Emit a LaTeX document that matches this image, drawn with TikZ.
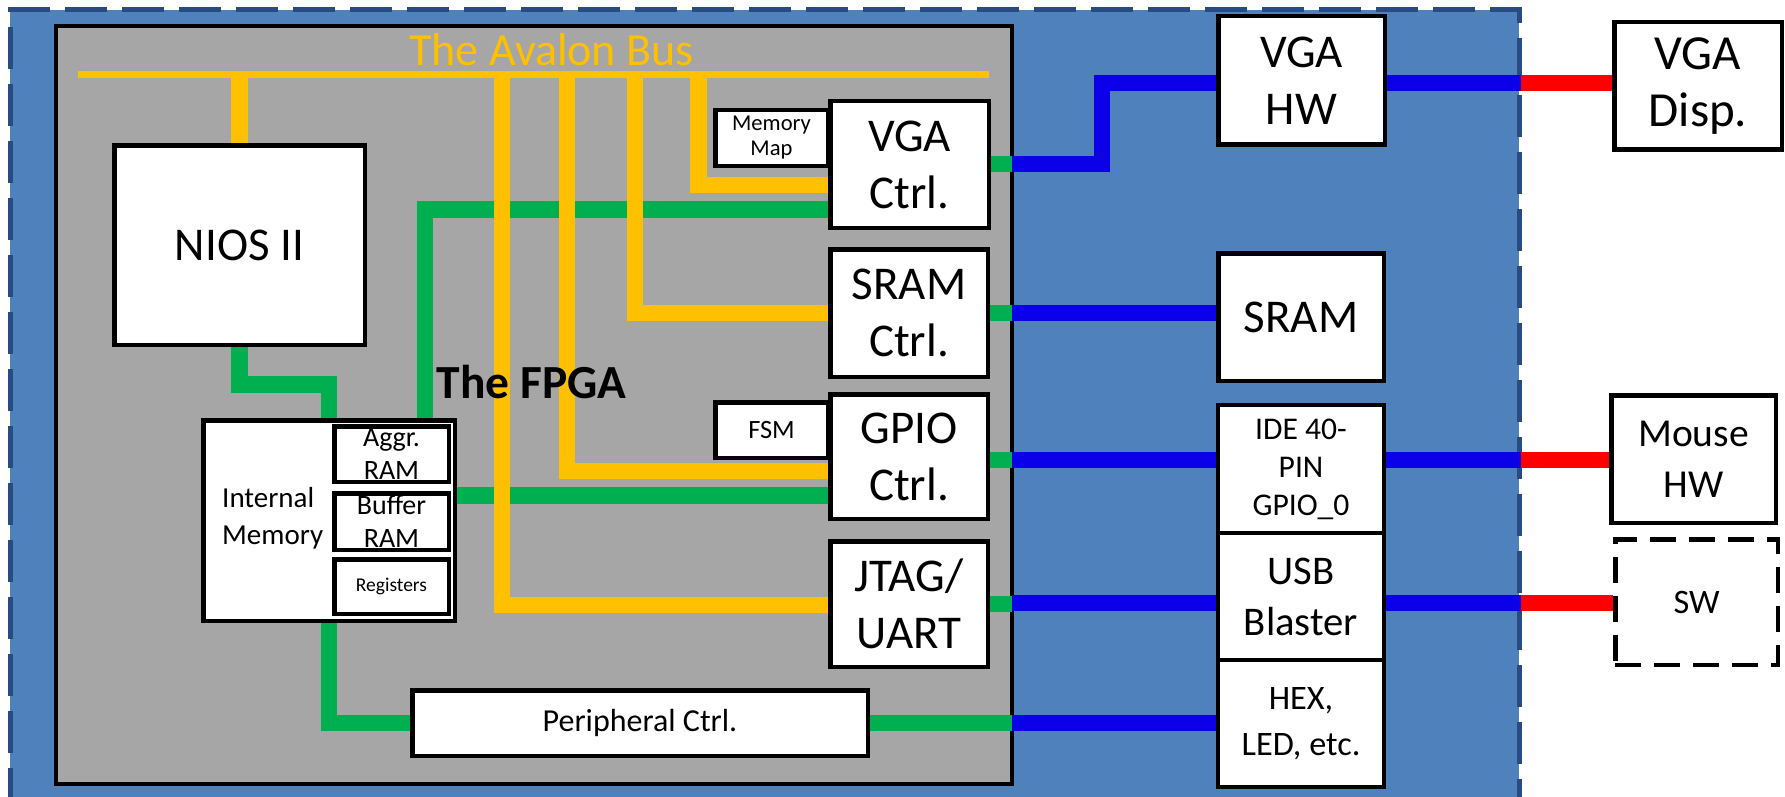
\documentclass[tikz,border=0pt]{standalone}
\usepackage{fontspec}
\setmainfont{Carlito}
\definecolor{bgblue}{RGB}{79,129,189}
\definecolor{edgeblue}{RGB}{40,75,130}
\definecolor{fpgagray}{RGB}{166,166,166}
\definecolor{busyellow}{RGB}{255,192,0}
\definecolor{wiregreen}{RGB}{0,176,80}
\definecolor{wireblue}{RGB}{12,0,232}
\definecolor{wirered}{RGB}{255,0,0}

\begin{document}
\begin{tikzpicture}[x=1pt, y=-1pt,
    box/.style={draw, line width=4.5pt, fill=white, align=center, inner sep=0pt,
        font=\fontsize{47}{57}\selectfont},
    smallbox/.style={box, minimum width=112.5pt, minimum height=55.5pt},
    buswire/.style={busyellow, line width=7.7pt},
    dropwire/.style={busyellow, line width=16.3pt},
    greenwire/.style={wiregreen, line width=16.5pt},
    bluewire/.style={wireblue, line width=16pt},
    redwire/.style={wirered, line width=16pt}]
    \useasboundingbox (0,0) rectangle (1785,797);

    % Board: dashed blue area
    \fill[bgblue] (10,10) rectangle (1519,810);
    \draw[edgeblue, line width=5pt, dash pattern=on 42pt off 15pt] (10,810) -- (10,10) -- (1519,10) -- (1519,810);
    \coordinate (boardedge) at (1521,0);

    % The FPGA
    \node[draw, line width=4.5pt, fill=fpgagray, minimum width=956pt, minimum height=758pt] (fpga) at (534,405) {};
    \coordinate (fpgaedge) at (1012,0);

    % Inside the FPGA
    \node[box, minimum width=250.5pt, minimum height=199.5pt] (nios) at (239.5,245) {NIOS II};
    \node[box, minimum width=251.5pt, minimum height=200.5pt] (intmem) at (329,520.5) {};
    \node[font=\fontsize{29}{36.7}\selectfont, align=left, anchor=west, inner sep=0pt] (intmemtext) at (222,518) {Internal\\Memory};
    \node[smallbox, minimum width=114.5pt, font=\fontsize{28}{32.5}\selectfont] (aggr) at (391.5,454) {Aggr.\\RAM};
    \node[smallbox, minimum width=114.5pt, minimum height=56.5pt, font=\fontsize{28}{32.5}\selectfont] (buffer) at (391.5,521.5) {Buffer\\RAM};
    \node[smallbox, minimum width=114.5pt, minimum height=54.5pt, font=\fontsize{19.5}{23}\selectfont] (regs) at (391.5,586.5) {Registers};

    \node[smallbox, font=\fontsize{22.6}{25}\selectfont] (mmap) at (771.5,138) {Memory\\Map};
    \node[box, minimum width=158.5pt, minimum height=126.5pt] (vgactrl) at (909.5,164.5) {VGA\\Ctrl.};
    \node[box, minimum width=157.5pt, minimum height=127.5pt] (sramctrl) at (909,313) {SRAM\\Ctrl.};
    \node[smallbox, font=\fontsize{26.4}{30}\selectfont] (fsm) at (771.5,430) {FSM};
    \node[box, minimum width=157.5pt, minimum height=124.5pt] (gpioctrl) at (909,456.5) {GPIO\\Ctrl.};
    \node[box, minimum width=157.5pt, minimum height=125.5pt] (jtag) at (909,604) {JTAG/\\UART};
    \node[box, minimum width=455.5pt, minimum height=65.5pt, font=\fontsize{32}{38}\selectfont] (periph) at (640,723) {Peripheral Ctrl.};

    % On the board
    \node[box, minimum width=166.5pt, minimum height=128.5pt] (vgahw) at (1301.5,80.5) {VGA\\HW};
    \node[box, minimum width=165.5pt, minimum height=127.5pt] (sram) at (1301,317) {SRAM};
    \node[box, minimum width=166pt, minimum height=128pt, font=\fontsize{31.6}{38}\selectfont] (ide) at (1301,469) {IDE 40-\\PIN\\GPIO\_0};
    \node[box, minimum width=166pt, minimum height=127pt, font=\fontsize{40.7}{51}\selectfont] (usb) at (1301,596.5) {USB\\Blaster};
    \node[box, minimum width=166pt, minimum height=127pt, font=\fontsize{34.3}{46}\selectfont] (hex) at (1301,723.5) {HEX,\\LED, etc.};

    % Outside the board
    \node[box, minimum width=167.5pt, minimum height=127.5pt, font=\fontsize{49}{57}\selectfont] (vgadisp) at (1698,86) {VGA\\Disp.};
    \node[box, minimum width=164.5pt, minimum height=127.5pt, font=\fontsize{39.6}{50.7}\selectfont] (mouse) at (1693.5,459) {Mouse\\HW};
    \node[box, dash pattern=on 26pt off 13pt, minimum width=162.5pt, minimum height=125.5pt, font=\fontsize{34.3}{40}\selectfont] (sw) at (1696.5,602) {SW};

    % Green links
    \draw[greenwire] (nios.south) |- (329,384.5) -- (329,0 |- intmem.north);
    \draw[greenwire] (329,0 |- intmem.south) |- (periph.west);
    \draw[greenwire] (425,0 |- intmem.north) |- (vgactrl.west |- 0,209.5);
    \draw[greenwire] (intmem.east |- 0,495.7) -- (gpioctrl.west |- 0,495.7);
    \foreach \c/\y in {vgactrl/164, sramctrl/313, gpioctrl/460, jtag/604}
        \draw[greenwire] (\c.east |- 0,\y) -- (fpgaedge |- 0,\y);
    \draw[greenwire] (periph.east) -- (fpgaedge |- periph.east);

    % The Avalon bus
    \coordinate (busL) at (78,74.5);
    \coordinate (busR) at (989,74.5);
    \draw[buswire] (busL) -- (busR);
    \draw[dropwire] (nios.north |- busL) -- (nios.north);
    \foreach \x/\c/\y in {501.7/jtag/604.7, 567/gpioctrl/471.3, 635/sramctrl/313.3, 698.5/vgactrl/184.7}
        \draw[dropwire] (\x,74.5) |- (\c.west |- 0,\y);
    \node[font=\fontsize{46}{55}\selectfont, text=busyellow, anchor=base, inner sep=0pt] (bustitle) at (551.5,65.7) {The Avalon Bus};
    \node[font=\bfseries\fontsize{47.5}{57}\selectfont, anchor=base west, inner sep=0pt] (fpgatitle) at (436.7,398) {The FPGA};

    % Blue board wires, red cables
    \draw[bluewire] (fpgaedge |- 0,164) -| (1102,83) -- (vgahw.west |- 0,83);
    \draw[bluewire] (vgahw.east |- 0,83) -- (boardedge |- 0,83);
    \draw[redwire] (boardedge |- 0,83) -- (vgadisp.west |- 0,83);
    \draw[bluewire] (fpgaedge |- 0,312.5) -- (sram.west |- 0,312.5);
    \draw[bluewire] (fpgaedge |- 0,460) -- (ide.west |- 0,460);
    \draw[bluewire] (ide.east |- 0,460) -- (boardedge |- 0,460);
    \draw[redwire] (boardedge |- 0,460) -- (mouse.west |- 0,460);
    \draw[bluewire] (fpgaedge |- 0,603.3) -- (usb.west |- 0,603.3);
    \draw[bluewire] (usb.east |- 0,603.3) -- (boardedge |- 0,603.3);
    \draw[redwire] (boardedge |- 0,603.3) -- (sw.west |- 0,603.3);
    \draw[bluewire] (fpgaedge |- 0,722.7) -- (hex.west |- 0,722.7);
\end{tikzpicture}
\end{document}
